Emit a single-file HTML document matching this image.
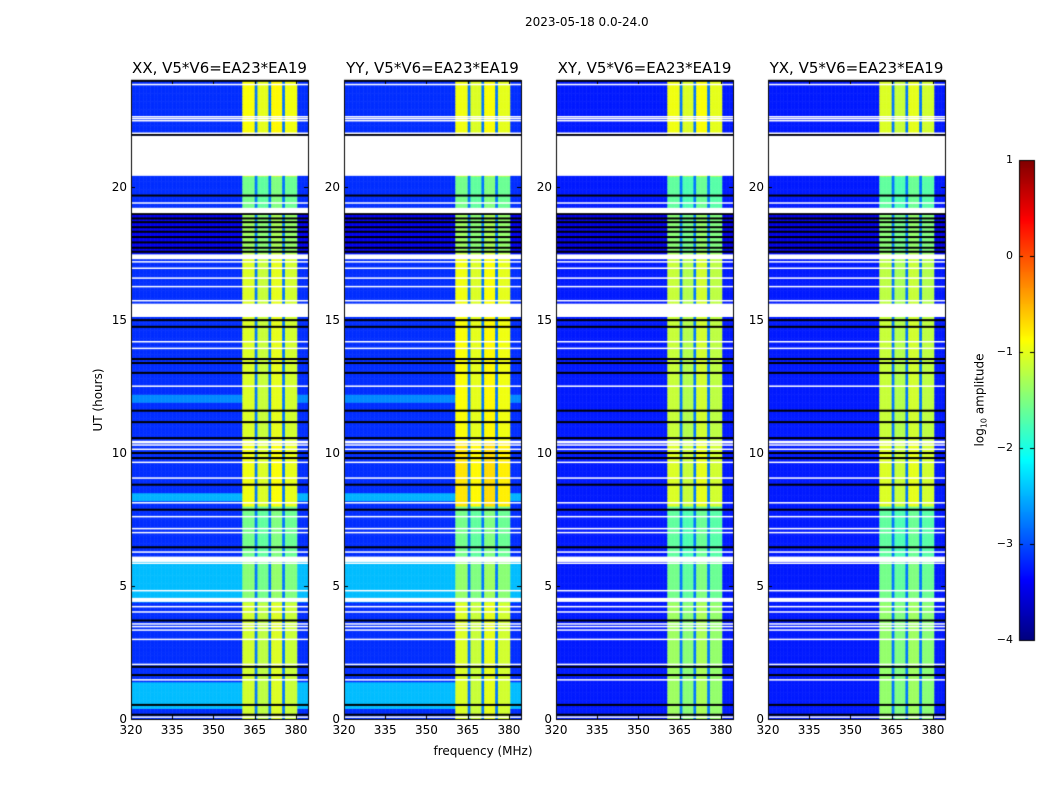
<!DOCTYPE html>
<html><head><meta charset="utf-8">
<style>
body{margin:0;background:#fff;width:1050px;height:800px;position:relative;overflow:hidden;font-family:"DejaVu Sans","Liberation Sans",sans-serif;color:#000}
canvas{position:absolute;left:0;top:0}
.t{position:absolute;white-space:nowrap;font-size:12px;line-height:12px}
</style></head><body>
<canvas id="c" width="1050" height="800"></canvas>
<div id="labels"></div>
<script>
// ---- data ----
const panelTitles = ["XX, V5*V6=EA23*EA19","YY, V5*V6=EA23*EA19","XY, V5*V6=EA23*EA19","YX, V5*V6=EA23*EA19"];
const xTicks = [320,335,350,365,380];
const yTicks = [0,5,10,15,20];
const cbTicks = [1,0,-1,-2,-3,-4];
// background levels (log10 amplitude) per time segment, per panel
const bgP1 = [[0,0.45,-3.15],[0.45,1.45,-2.45],[1.45,4.45,-3.15],[4.45,6.0,-2.45],[6.0,8.15,-3.15],[8.15,8.5,-2.5],[8.5,11.9,-3.15],[11.9,12.15,-2.7],[12.15,17.45,-3.15],[17.45,19.0,-3.45],[19.0,24,-3.15]];
const bgP2 = [[0,0.45,-3.15],[0.45,1.45,-2.45],[1.45,4.45,-3.15],[4.45,6.0,-2.45],[6.0,8.15,-3.15],[8.15,8.5,-2.5],[8.5,11.9,-3.15],[11.9,12.15,-2.7],[12.15,17.45,-3.15],[17.45,19.0,-3.45],[19.0,24,-3.15]];
const bgP3 = [[0,17.45,-3.25],[17.45,19.0,-3.5],[19.0,24,-3.25]];
const bgP4 = [[0,17.45,-3.25],[17.45,19.0,-3.5],[19.0,24,-3.25]];
// band (360-381 MHz) levels per time segment
const bandP1 = [[0,4.45,-1.15],[4.45,6.0,-1.5],[6.0,8.0,-1.6],[8.0,10.4,-1.0],[10.4,15.1,-1.1],[15.1,17.45,-1.1],[17.45,19.0,-1.4],[19.0,20.4,-1.6],[20.4,24,-0.95]];
const bandP2 = [[0,4.45,-1.1],[4.45,6.0,-1.45],[6.0,8.0,-1.6],[8.0,10.4,-0.8],[10.4,15.1,-0.95],[15.1,17.45,-1.0],[17.45,19.0,-1.4],[19.0,20.4,-1.6],[20.4,24,-1.0]];
const bandP3 = [[0,4.45,-1.4],[4.45,6.0,-1.6],[6.0,8.0,-1.7],[8.0,10.4,-1.1],[10.4,15.1,-1.2],[15.1,17.45,-1.2],[17.45,19.0,-1.5],[19.0,20.4,-1.7],[20.4,24,-1.0]];
const bandP4 = [[0,4.45,-1.45],[4.45,6.0,-1.6],[6.0,8.0,-1.7],[8.0,10.4,-1.1],[10.4,15.1,-1.2],[15.1,17.45,-1.25],[17.45,19.0,-1.5],[19.0,20.4,-1.7],[20.4,24,-1.1]];
const subBandOffset = [0.05,-0.05,0.1,0.0];
const subBandEdges = [360.7,365.6,370.6,375.6,380.4];
// masked (white) time blocks and lines
const maskBlocks = [[20.4,21.9],[15.1,15.6],[10.35,10.45],[5.9,6.1],[4.4,4.55],[19.0,19.2],[17.27,17.45]];
const whiteLines = [23.83,22.62,22.55,22.47,22.0,19.38,17.17,16.93,16.56,16.24,15.71,14.17,13.92,12.5,10.29,10.13,9.64,9.05,8.12,7.6,7.15,7.0,6.27,5.85,4.82,4.22,4.02,3.57,3.47,3.34,2.99,2.05,1.47,0.07];
const blackLines = [23.97,21.94,19.66,18.97,18.8,18.66,18.47,18.3,18.1,17.9,17.7,17.55,14.98,14.73,13.52,13.37,13.0,11.58,11.15,10.55,9.99,9.8,8.8,7.86,6.45,3.7,1.96,1.65,0.53,0.16];
// ---- layout ----
const panelX = [131,344,556,768], panelW = 177, plotTop = 80, plotBottom = 719;
const fMin = 320, fMax = 384.4, tMin = 0, tMax = 24;
const bgs=[bgP1,bgP2,bgP3,bgP4], bands=[bandP1,bandP2,bandP3,bandP4];
const vmin=-4, vmax=1;
function xScale(p,f){return panelX[p]+(f-fMin)/(fMax-fMin)*panelW;}
function yScale(t){return plotBottom-(t-tMin)/(tMax-tMin)*(plotBottom-plotTop);}
function jet(v){let t=(v-vmin)/(vmax-vmin);t=Math.max(0,Math.min(1,t));
 const c=x=>Math.round(255*Math.max(0,Math.min(1,x)));
 return `rgb(${c(1.5-Math.abs(4*t-3))},${c(1.5-Math.abs(4*t-2))},${c(1.5-Math.abs(4*t-1))})`;}
function seg(arr,t){for(const s of arr) if(t>=s[0]&&t<s[1]) return s[2]; return arr[arr.length-1][2];}
const ctx=document.getElementById('c').getContext('2d');
const dt=0.1, df=0.5;
for(let p=0;p<4;p++){
 for(let t=0;t<tMax-1e-9;t+=dt){
  const bg=seg(bgs[p],t+dt/2), bl=seg(bands[p],t+dt/2);
  const y0=yScale(t+dt), y1=yScale(t);
  for(let f=fMin;f<fMax;f+=df){
   const fc=f+df/2; let v=bg;
   if(fc>subBandEdges[0]&&fc<subBandEdges[4]){
     let k=0; while(k<3&&fc>subBandEdges[k+1])k++;
     v=bl+subBandOffset[k];
     for(let e=1;e<4;e++) if(Math.abs(fc-subBandEdges[e])<0.5) v=-2.8;
   }
   const x0=xScale(p,f), x1=Math.min(xScale(p,f+df),panelX[p]+panelW);
   ctx.fillStyle=jet(v); ctx.fillRect(x0,y0,x1-x0+0.5,y1-y0+0.5);
  }
 }
 const L=panelX[p], W=panelW;
 ctx.fillStyle='#000';
 for(const t of blackLines) ctx.fillRect(L,yScale(t)-1,W,2);
 ctx.fillStyle='#fff';
 for(const t of whiteLines) ctx.fillRect(L,yScale(t)-0.75,W,1.5);
 for(const b of maskBlocks) ctx.fillRect(L,yScale(b[1]),W,yScale(b[0])-yScale(b[1]));
 ctx.strokeStyle='#000'; ctx.lineWidth=1;
 ctx.strokeRect(L+0.5,plotTop+0.5,W,plotBottom-plotTop);
 ctx.beginPath();
 for(const xt of xTicks){const x=Math.round(xScale(p,xt))+0.5;ctx.moveTo(x,plotBottom);ctx.lineTo(x,plotBottom-4);ctx.moveTo(x,plotTop);ctx.lineTo(x,plotTop+4);}
 for(const yt of yTicks){const y=Math.round(yScale(yt))+0.5;ctx.moveTo(L,y);ctx.lineTo(L+4,y);ctx.moveTo(L+W,y);ctx.lineTo(L+W-4,y);}
 ctx.stroke();
}
// colorbar
const cbX=1019,cbW=15,cbTop=160,cbBot=640;
for(let y=cbTop;y<cbBot;y++){const v=vmax-(y-cbTop+0.5)/(cbBot-cbTop)*(vmax-vmin);ctx.fillStyle=jet(v);ctx.fillRect(cbX,y,cbW,1);}
ctx.strokeStyle='#000';
ctx.strokeRect(cbX+0.5,cbTop+0.5,cbW,cbBot-cbTop);
ctx.beginPath();
for(const v of cbTicks){const y=Math.round(cbTop+(vmax-v)/(vmax-vmin)*(cbBot-cbTop))+0.5;ctx.moveTo(cbX,y);ctx.lineTo(cbX+4,y);ctx.moveTo(cbX+cbW,y);ctx.lineTo(cbX+cbW-4,y);}
ctx.stroke();
// ---- text ----
const lab=document.getElementById('labels');
function txt(s,x,y,name,style){const d=document.createElement('div');d.className='t';d.textContent=s;d.style.left=x+'px';d.style.top=y+'px';if(style)d.style.cssText+=style;


lab.appendChild(d);return d;}
txt("2023-05-18 0.0-24.0",525,16,'figure-title','font-size:12px');
for(let p=0;p<4;p++){
 txt(panelTitles[p],panelX[p]+panelW/2,61,'panel-title','font-size:15px;line-height:15px;transform:translateX(-50%)');
 for(const xt of xTicks){txt(String(xt),xScale(p,xt),724,'x-tick-label','transform:translateX(-50%)');}
 for(const yt of yTicks){txt(String(yt),panelX[p]-4,yScale(yt)-6,'y-tick-label','transform:translateX(-100%)');}
}
txt("frequency (MHz)",483,745,'x-axis-title','transform:translateX(-50%)');
txt("UT (hours)",98,400,'y-axis-title','transform:translate(-50%,-50%) rotate(-90deg)');
for(const v of cbTicks){txt(v<0?'\u2212'+(-v):String(v),1013,cbTop+(vmax-v)/(vmax-vmin)*(cbBot-cbTop)-6,'colorbar-tick-label','font-size:11px;transform:translateX(-100%)');}
const cl=txt("",982,400,'colorbar-title','transform:translate(-50%,-50%) rotate(-90deg)');
cl.innerHTML='log<sub style="font-size:8px">10</sub> amplitude';
</script>
</body></html>
